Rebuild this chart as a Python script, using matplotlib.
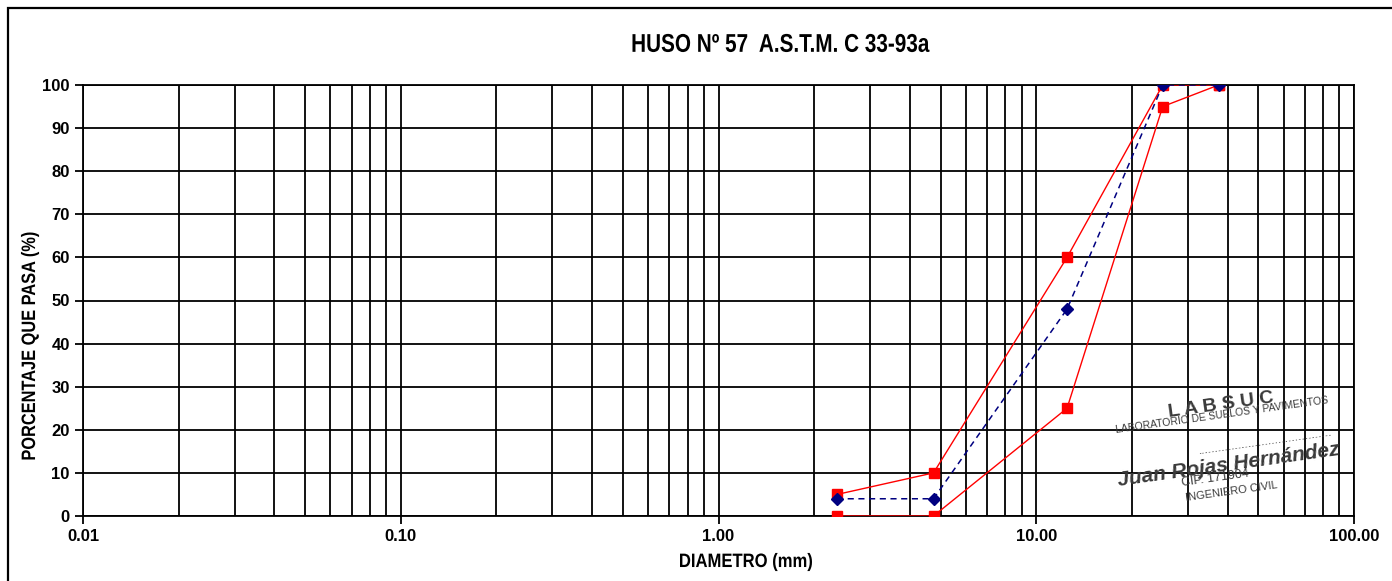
import matplotlib.pyplot as plt
from matplotlib.patches import Rectangle, PathPatch
from matplotlib.textpath import TextPath
from matplotlib.font_manager import FontProperties
from matplotlib.transforms import Affine2D, IdentityTransform
from matplotlib.ticker import FixedLocator, NullFormatter

# sieve openings (mm) and percent passing
sieve_mm = [2.36, 4.75, 12.5, 25.0, 37.5]
upper_limit = [5, 10, 60, 100, 100]
lower_limit = [0, 0, 25, 95, 100]
sample_pass = [4, 4, 48, 100, 100]

x_ticks = [0.01, 0.1, 1, 10, 100]
x_ticklabels = ["0.01", "0.10", "1.00", "10.00", "100.00"]
y_ticks = list(range(0, 101, 10))

W, H = 1392, 581
bold_fp = FontProperties(family="Liberation Sans", weight="bold")

fig = plt.figure(figsize=(W / 100, H / 100), dpi=100)
ax = fig.add_axes([83 / W, 1 - 516 / H, 1271 / W, 431 / H])


def narrow_text(cx, cy, s, size, width, rotation=0):
    """Bold condensed text centred at pixel (cx, cy from top), squeezed to width px."""
    path = TextPath((0, 0), s, size=size * 100 / 72, prop=bold_fp)
    ext = path.get_extents()
    sx = width / ext.width
    tr = (Affine2D()
          .translate(-(ext.x0 + ext.width / 2), -(ext.y0 + ext.height / 2))
          .scale(sx, 1)
          .rotate_deg(rotation)
          .translate(cx, H - cy))
    fig.patches.append(PathPatch(tr.transform_path(path), facecolor="black",
                                 edgecolor="none", transform=IdentityTransform()))


# outer frame of the sheet
fig.patches.append(Rectangle((8 / W, -0.05), 1.1, 1 - 8 / H + 0.05,
                             transform=fig.transFigure, fill=False,
                             edgecolor="black", linewidth=1.6))

ax.set_xscale("log")
ax.set_xlim(0.01, 100)
ax.set_ylim(0, 100)

minor = [m * 10.0 ** e for e in range(-2, 2) for m in range(2, 10)]
for xv in minor + x_ticks:
    ax.axvline(xv, color="black", linewidth=1.3, zorder=1)
for yv in y_ticks:
    ax.axhline(yv, color="black", linewidth=1.3, zorder=1)

ax.plot(sieve_mm, upper_limit, color="red", linewidth=1.0, marker="s",
        markersize=7, zorder=3)
ax.plot(sieve_mm, lower_limit, color="red", linewidth=1.0, marker="s",
        markersize=7, zorder=3)
ax.plot(sieve_mm, sample_pass, color="navy", linewidth=1.1, linestyle=(0, (4, 3)),
        marker="D", markersize=6, zorder=4)

ax.xaxis.set_major_locator(FixedLocator(x_ticks))
ax.xaxis.set_minor_locator(FixedLocator(minor))
ax.xaxis.set_minor_formatter(NullFormatter())
ax.set_xticks(x_ticks)
ax.set_xticklabels(x_ticklabels)
ax.set_yticks(y_ticks)
ax.tick_params(axis="both", which="major", length=6, width=1.3, labelsize=12)
ax.tick_params(axis="x", which="minor", length=0)
for lbl in ax.get_xticklabels() + ax.get_yticklabels():
    lbl.set_fontfamily(["Liberation Sans", "DejaVu Sans"])
    lbl.set_fontweight("bold")

for s in ax.spines.values():
    s.set_linewidth(1.3)

# title and axis labels in a condensed bold face
narrow_text(781, 43, "HUSO Nº 57  A.S.T.M. C 33-93a", 18.5, 297)
narrow_text(746, 562, "DIAMETRO (mm)", 14, 132)
narrow_text(30, 346, "PORCENTAJE QUE PASA (%)", 14, 227, rotation=90)

# laboratory stamp
stamp = dict(transform=ax.transAxes, rotation=8, ha="center", va="center",
             color="#3a3a3a", family=["Liberation Sans", "DejaVu Sans"], zorder=5)
ax.text(0.895, 0.258, "L A B S U C", fontsize=14, fontweight="bold", **stamp)
ax.text(0.896, 0.234, "LABORATORIO DE SUELOS Y PAVIMENTOS", fontsize=7.5, **stamp)
ax.text(0.93, 0.172, "." * 40, fontsize=9, **stamp)
ax.text(0.901, 0.118, "Juan Rojas Hernández", fontsize=15, style="italic",
        fontweight="bold", **stamp)
ax.text(0.891, 0.088, "CIP. 171904", fontsize=9, **stamp)
ax.text(0.904, 0.056, "INGENIERO CIVIL", fontsize=8, **stamp)

fig.savefig("out.png", dpi=100)
